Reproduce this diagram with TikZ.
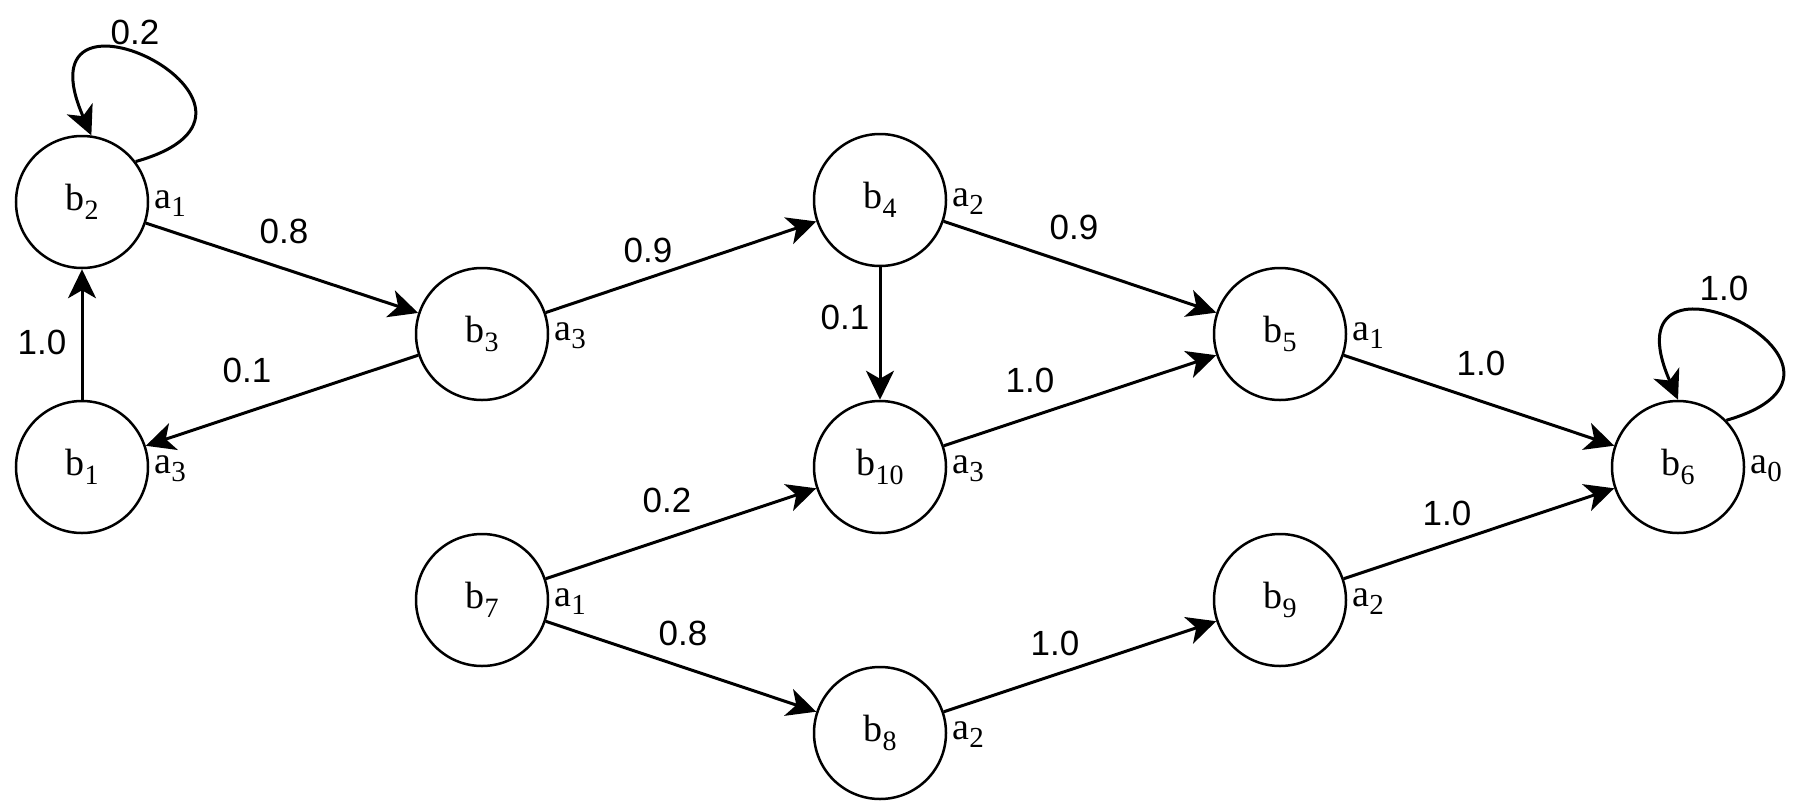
\documentclass[tikz,border=0pt]{standalone}
\usepackage{fontspec}
\setmainfont{Liberation Serif}
\newfontfamily\lblfont{Liberation Sans}
\usetikzlibrary{arrows.meta}
\newcommand\bsb[1]{\raisebox{-4.2pt}{\fontsize{14}{14}\selectfont #1}}
\newcommand\asb[1]{\raisebox{-4.2pt}{\fontsize{14.5}{14}\selectfont #1}}
\begin{document}
\begin{tikzpicture}[x=0.5pt,y=-0.5pt,
  state/.style={circle, draw, line width=1.25pt, minimum size=66pt, inner sep=0pt,
    font=\fontsize{19}{20}\selectfont},
  alab/.style={anchor=base west, inner sep=0pt, xshift=36pt, yshift=-3pt,
    font=\fontsize{19}{20}\selectfont},
  elab/.style={inner sep=0pt, font=\lblfont\fontsize{17.5}{19}\selectfont},
  edge/.style={line width=1.5pt, -{Stealth[length=14.5pt,width=14pt,inset=4pt]}}
]
\useasboundingbox (0,0) rectangle (1801,804);
% states
\node[state] (b2)  at (82,202)   {b\bsb{2}};
\node[state] (b1)  at (82,467)   {b\bsb{1}};
\node[state] (b3)  at (482,334)  {b\bsb{3}};
\node[state] (b7)  at (482,600)  {b\bsb{7}};
\node[state] (b4)  at (880,200)  {b\bsb{4}};
\node[state] (b10) at (880,467)  {b\bsb{10}};
\node[state] (b8)  at (880,733)  {b\bsb{8}};
\node[state] (b5)  at (1280,334) {b\bsb{5}};
\node[state] (b9)  at (1280,600) {b\bsb{9}};
\node[state] (b6)  at (1678,467) {b\bsb{6}};
% action labels
\node[alab] (l2)  at (b2)  {a\asb{1}};
\node[alab] (l1)  at (b1)  {a\asb{3}};
\node[alab] (l3)  at (b3)  {a\asb{3}};
\node[alab] (l7)  at (b7)  {a\asb{1}};
\node[alab] (l4)  at (b4)  {a\asb{2}};
\node[alab] (l10) at (b10) {a\asb{3}};
\node[alab] (l8)  at (b8)  {a\asb{2}};
\node[alab] (l5)  at (b5)  {a\asb{1}};
\node[alab] (l9)  at (b9)  {a\asb{2}};
\node[alab] (l6)  at (b6)  {a\asb{0}};
% edges
\draw[edge] (b1) -- (b2);
\draw[edge] (b2) -- (b3);
\draw[edge] (b3) -- (b1);
\draw[edge] (b3) -- (b4);
\draw[edge] (b4) -- (b5);
\draw[edge] (b4) -- (b10);
\draw[edge] (b10) -- (b5);
\draw[edge] (b5) -- (b6);
\draw[edge] (b7) -- (b10);
\draw[edge] (b7) -- (b8);
\draw[edge] (b8) -- (b9);
\draw[edge] (b9) -- (b6);
\draw[edge] (b2.37) .. controls +(185,-52) and +(-78,-178) .. (b2.82);
\draw[edge] (b6.44) .. controls +(180,-52) and +(-78,-178) .. (b6.90);
% edge labels
\node[elab] (e21) at (42,342)   {1.0};
\node[elab] (e22) at (135,32)   {0.2};
\node[elab] (e23) at (284,231)  {0.8};
\node[elab] (e31) at (247,370)  {0.1};
\node[elab] (e34) at (648,250)  {0.9};
\node[elab] (e410) at (845,317) {0.1};
\node[elab] (e45) at (1074,227) {0.9};
\node[elab] (e105) at (1030,380) {1.0};
\node[elab] (e56) at (1481,363) {1.0};
\node[elab] (e710) at (667,500) {0.2};
\node[elab] (e78) at (683,633)  {0.8};
\node[elab] (e89) at (1055,643) {1.0};
\node[elab] (e96) at (1447,513) {1.0};
\node[elab] (e66) at (1724,288) {1.0};
\end{tikzpicture}
\end{document}
